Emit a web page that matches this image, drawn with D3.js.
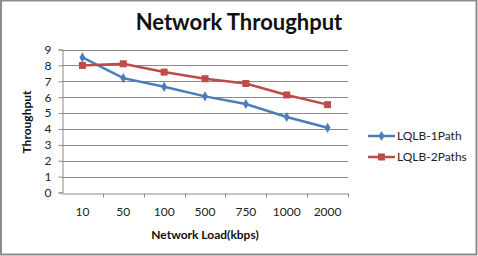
<!DOCTYPE html>
<html>
<head>
<meta charset="utf-8">
<script src="https://cdn.jsdelivr.net/npm/d3@7"></script>
<style>
  body { margin: 0; background: #fff; }
  svg { display: block; }
</style>
</head>
<body>
<svg id="chart" width="478" height="256"></svg>
<script>
// 数据
const loads = ["10", "50", "100", "500", "750", "1000", "2000"]
const path1 = [8.5, 7.2, 6.65, 6.05, 5.57, 4.75, 4.07]
const path2 = [8.0, 8.1, 7.58, 7.16, 6.86, 6.14, 5.53]
const yTicks = [0, 1, 2, 3, 4, 5, 6, 7, 8, 9]
const seriesNames = ["LQLB-1Path", "LQLB-2Paths"]
const colors = ["#4a7ebb", "#be4b48"]

const W = 478, H = 256
const font = "Lato, 'Open Sans', sans-serif"
const svg = d3.select("#chart")

// 外框
svg.append("rect")
    .attr("x", 1).attr("y", 0.5)
    .attr("width", W - 2.5).attr("height", H - 2)
    .attr("fill", "#fff")
    .attr("stroke", "#8c8c8c")
    .attr("stroke-width", 2)

const plot = { left: 62, right: 348, top: 49.5, bottom: 192.5 }

const x = d3.scaleBand().domain(loads).range([plot.left, plot.right])
const y = d3.scaleLinear().domain([0, 9]).range([plot.bottom, plot.top])

// 网格线
svg.append("g")
    .selectAll("line")
    .data(yTicks.filter(d => d > 0))
    .enter().append("line")
    .attr("x1", plot.left).attr("x2", plot.right)
    .attr("y1", d => Math.round(y(d)) + 0.5)
    .attr("y2", d => Math.round(y(d)) + 0.5)
    .attr("stroke", "#8a8a8a")
    .attr("stroke-width", 1)

// y轴
const yAxis = d3.axisLeft(y).tickValues(yTicks).tickSize(4).tickPadding(7)
const gy = svg.append("g")
    .attr("transform", `translate(${plot.left + 0.5},0)`)
    .call(yAxis)
gy.select(".domain").attr("stroke", "#8a8a8a")
gy.selectAll(".tick line").attr("stroke", "#8a8a8a")
gy.selectAll("text").attr("font-family", font).attr("font-size", 12).attr("fill", "#222")

// x轴
const xAxis = d3.axisBottom(x).tickSize(0).tickPadding(14)
const gx = svg.append("g")
    .attr("transform", `translate(0,${Math.round(plot.bottom) + 0.5})`)
    .call(xAxis)
gx.select(".domain").attr("stroke", "#8a8a8a")
gx.selectAll("text").attr("font-family", font).attr("font-size", 12).attr("fill", "#222")
// 类别边界刻度
gx.append("g")
    .selectAll("line")
    .data(loads.slice(1).concat(["end"]))
    .enter().append("line")
    .attr("x1", (d, i) => Math.round(plot.left + (i + 1) * x.step()) + 0.5)
    .attr("x2", (d, i) => Math.round(plot.left + (i + 1) * x.step()) + 0.5)
    .attr("y1", 0).attr("y2", 4)
    .attr("stroke", "#8a8a8a")

// 折线
const line = d3.line()
    .x((d, i) => x(loads[i]) + x.bandwidth() / 2)
    .y(d => y(d))

svg.append("path").datum(path1)
    .attr("d", line).attr("fill", "none")
    .attr("stroke", colors[0]).attr("stroke-width", 2.5)
svg.append("path").datum(path2)
    .attr("d", line).attr("fill", "none")
    .attr("stroke", colors[1]).attr("stroke-width", 2.5)

// 菱形标记
svg.append("g").selectAll("path")
    .data(path1)
    .enter().append("path")
    .attr("transform", (d, i) => `translate(${x(loads[i]) + x.bandwidth() / 2},${y(d)})`)
    .attr("d", d3.symbol(d3.symbolDiamond, 30))
    .attr("fill", colors[0])
// 方形标记
svg.append("g").selectAll("rect")
    .data(path2)
    .enter().append("rect")
    .attr("x", (d, i) => x(loads[i]) + x.bandwidth() / 2 - 3.5)
    .attr("y", d => y(d) - 3.5)
    .attr("width", 7).attr("height", 7)
    .attr("fill", colors[1])

// 标题
svg.append("text")
    .attr("x", 239).attr("y", 30)
    .attr("text-anchor", "middle")
    .attr("font-family", font).attr("font-weight", "bold")
    .attr("font-size", 22).attr("fill", "#111")
    .text("Network Throughput")

svg.append("text")
    .attr("x", 205).attr("y", 239)
    .attr("text-anchor", "middle")
    .attr("font-family", font).attr("font-weight", "bold")
    .attr("font-size", 12).attr("fill", "#111")
    .text("Network Load(kbps)")

svg.append("text")
    .attr("transform", "translate(31,122) rotate(-90)")
    .attr("text-anchor", "middle")
    .attr("font-family", font).attr("font-weight", "bold")
    .attr("font-size", 12).attr("fill", "#111")
    .text("Throughput")

// 图例
const legend = svg.append("g")
seriesNames.forEach((name, i) => {
    const ly = 136 + i * 21
    legend.append("line")
        .attr("x1", 368).attr("x2", 395)
        .attr("y1", ly).attr("y2", ly)
        .attr("stroke", colors[i]).attr("stroke-width", 2.5)
    if (i == 0) {
        legend.append("path")
            .attr("transform", `translate(381.5,${ly})`)
            .attr("d", d3.symbol(d3.symbolDiamond, 30))
            .attr("fill", colors[i])
    } else {
        legend.append("rect")
            .attr("x", 378).attr("y", ly - 3.5)
            .attr("width", 7).attr("height", 7)
            .attr("fill", colors[i])
    }
    legend.append("text")
        .attr("x", 397).attr("y", ly + 4)
        .attr("font-family", font).attr("font-size", 12).attr("fill", "#222")
        .text(name)
})
</script>
</body>
</html>
